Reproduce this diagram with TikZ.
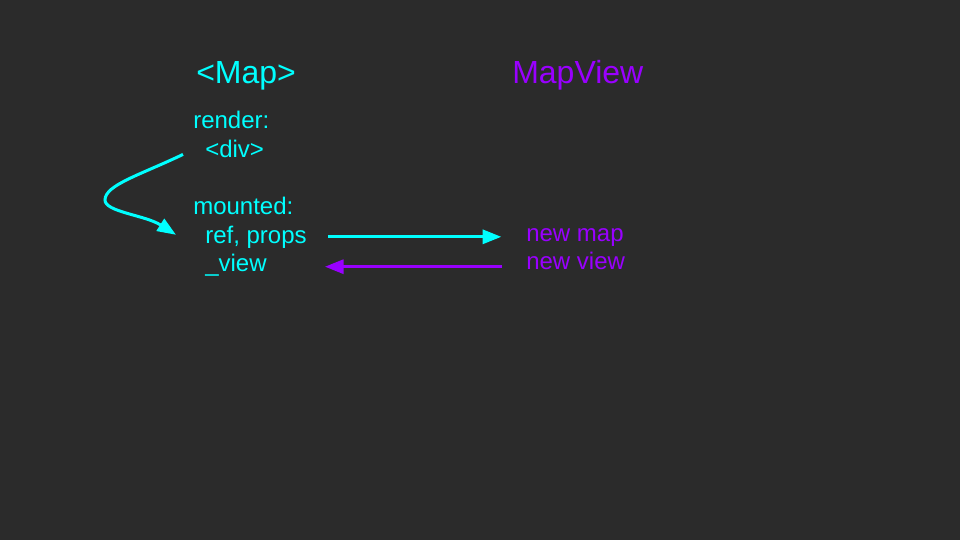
\documentclass[tikz,border=0pt]{standalone}
\usepackage{fontspec}
\setmainfont{Liberation Sans}
\usetikzlibrary{arrows.meta}
\definecolor{bg}{HTML}{2B2B2B}
\definecolor{mapcyan}{HTML}{00FFFF}
\definecolor{viewpurple}{HTML}{9900FF}
\begin{document}
\begin{tikzpicture}[x=0.75pt,y=-0.75pt,
        title/.style={anchor=base west,inner sep=0,font=\fontsize{24}{28}\selectfont},
        line/.style={anchor=base west,inner sep=0,font=\fontsize{18}{22}\selectfont},
        arr/.style={line width=2.25pt,-{Triangle[length=14pt,width=10.5pt]}}]
        \fill[bg] (0,0) rectangle (960,540);
        \useasboundingbox (0,0) rectangle (960,540);

        \node[title,text=mapcyan] (map) at (196,83) {<Map>};
        \node[title,text=viewpurple] (mapview) at (512,83) {MapView};

        \node[line,text=mapcyan] (render) at (193,128) {render:};
        \node[line,text=mapcyan] (div) at (205,157) {<div>};
        \node[line,text=mapcyan] (mounted) at (193,214) {mounted:};
        \node[line,text=mapcyan] (ref) at (205,243) {ref, props};
        \node[line,text=mapcyan] (view) at (205,271) {\_view};
        \node[line,text=viewpurple] (newmap) at (526,241) {new map};
        \node[line,text=viewpurple] (newview) at (526,269) {new view};

        \path[draw,arr,mapcyan] ([shift={(-22,6)}]div.west) .. controls (140,175) and (105,185) .. (105,200)
            .. controls (105,212) and (145,215) .. ([shift={(-29,-2)}]ref.west);
        \path[draw,arr,mapcyan,shorten <=16pt,shorten >=18.5pt] (ref.east) -- (ref.east -| newmap.west);
        \path[draw,arr,viewpurple,shorten <=18pt,shorten >=13.5pt] ([yshift=-1.5pt]newview.west |- view.east) -- ([yshift=-1.5pt]ref.east |- view.east);
    \end{tikzpicture}
\end{document}
